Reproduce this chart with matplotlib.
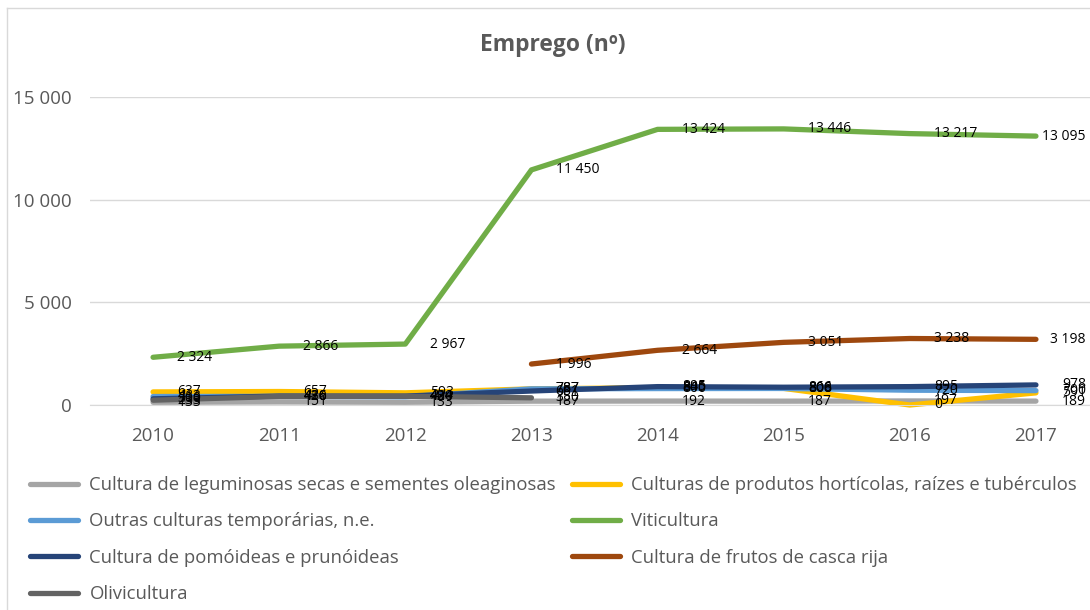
import matplotlib
matplotlib.use("Agg")
import matplotlib.pyplot as plt
import numpy as np

years = ["2010", "2011", "2012", "2013", "2014", "2015", "2016", "2017"]
series_names = [
    "Cultura de leguminosas secas e sementes oleaginosas",
    "Culturas de produtos hortícolas, raízes e tubérculos",
    "Outras culturas temporárias, n.e.",
    "Viticultura",
    "Cultura de pomóideas e prunóideas",
    "Cultura de frutos de casca rija",
    "Olivicultura",
]
leguminosas = [133, 151, 133, 187, 192, 187, 197, 189]
horticolas = [637, 657, 593, 787, 845, 808, 0, 591]
outras = [413, 420, 400, 787, 800, 806, 720, 700]
viticultura = [2324, 2866, 2967, 11450, 13424, 13446, 13217, 13095]
pomoideas = [300, 436, 434, 681, 895, 866, 895, 978]
casca_rija = [np.nan, np.nan, np.nan, 1996, 2664, 3051, 3238, 3198]
olivicultura = [233, 416, 424, 350, np.nan, np.nan, np.nan, np.nan]

values = [leguminosas, horticolas, outras, viticultura, pomoideas, casca_rija, olivicultura]
colors = ["#A5A5A5", "#FFC000", "#5B9BD5", "#70AD47", "#264478", "#9E480E", "#636363"]

plt.rcParams['font.family'] = ['Open Sans', 'DejaVu Sans']
W, H = 1090, 610
fig = plt.figure(figsize=(W / 100, H / 100), dpi=100)

# chart border
fig.add_artist(plt.Line2D([7 / W, 7 / W], [0, 1 - 8 / H], color="#D9D9D9", lw=1))
fig.add_artist(plt.Line2D([7 / W, 1], [1 - 8 / H, 1 - 8 / H], color="#D9D9D9", lw=1))

left, right, top, bottom = 90, 1099, 97, 405
ax = fig.add_axes([left / W, 1 - bottom / H, (right - left) / W, (bottom - top) / H])
x = np.arange(len(years))

handles = []
for name, vals, c in zip(series_names, values, colors):
    v = np.array(vals, dtype=float)
    h, = ax.plot(x, v, color=c, lw=3.8, solid_capstyle="round", label=name, clip_on=False)
    handles.append(h)
    for xi, vi in zip(x, v):
        if np.isnan(vi):
            continue
        txt = f"{int(vi):,}".replace(",", " ")
        if xi == x[-1]:
            # last labels are kept inside the chart area (right aligned)
            ax.annotate(txt, (xi, vi), xytext=(36, 0), textcoords="offset points",
                        ha="right", va="center", fontsize=10, color="black",
                        annotation_clip=False, zorder=10)
        else:
            ax.annotate(txt, (xi, vi), xytext=(17.5, 0), textcoords="offset points",
                        ha="left", va="center", fontsize=10, color="black",
                        annotation_clip=False, zorder=10)

ax.set_xlim(-0.5, len(years) - 0.5)
ax.set_ylim(0, 15000)
ax.set_yticks([0, 5000, 10000, 15000])
ax.set_yticklabels(["0", "5 000", "10 000", "15 000"])
ax.set_xticks(x)
ax.set_xticklabels(years)
ax.grid(axis="y", color="#D9D9D9", lw=1)
ax.set_axisbelow(True)
for s in ["top", "right", "left"]:
    ax.spines[s].set_visible(False)
ax.spines["bottom"].set_color("#D9D9D9")
ax.tick_params(axis="both", length=0, labelsize=13.5, colors="#595959")
ax.tick_params(axis="x", pad=16)
ax.tick_params(axis="y", pad=13)

fig.text(553 / W, 1 - 45 / H, "Emprego (nº)", ha="center", va="center",
         fontsize=16.5, fontweight="bold", color="#595959")

order = [0, 2, 4, 6, 1, 3, 5]
leg = fig.legend([handles[i] for i in order], [series_names[i] for i in order],
                 ncol=2, loc="upper left", bbox_to_anchor=(30 / W, 1 - 476 / H),
                 frameon=False, fontsize=13.3, handlelength=2.6, handletextpad=0.62,
                 columnspacing=0.85, labelspacing=1.0, borderpad=0, borderaxespad=0)
for t in leg.get_texts():
    t.set_color("#595959")

fig.savefig("out.png", dpi=100)
